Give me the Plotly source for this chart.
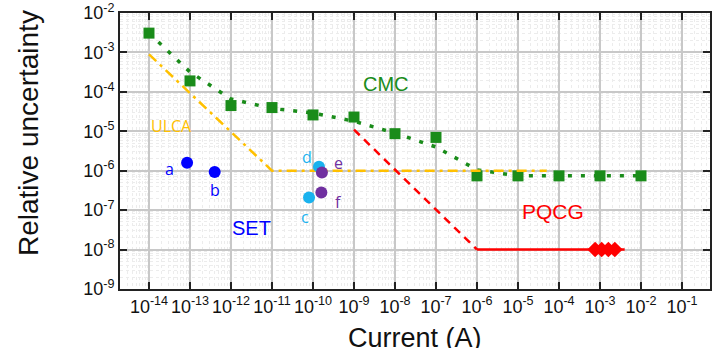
import math
import plotly.graph_objects as go

# CMC squares
cmc_x = [1e-14, 1e-13, 1e-12, 1e-11, 1e-10, 1e-9, 1e-8, 1e-7, 1e-6, 1e-5, 1e-4, 1e-3, 1e-2]
cmc_y = [3.1e-3, 1.9e-4, 4.5e-5, 4.0e-5, 2.6e-5, 2.3e-5, 8.7e-6, 7.0e-6, 7.4e-7, 7.4e-7, 7.4e-7, 7.4e-7, 7.4e-7]

# CMC trend (dotted)
trend_x = [1e-14, 1e-13, 1e-12, 1e-11, 1e-10, 1e-9, 1e-8, 1e-7, 1e-6, 1e-5, 1e-4, 1e-3, 1e-2]
trend_y = [3.1e-3, 3.2e-4, 6.6e-5, 3.8e-5, 2.9e-5, 1.8e-5, 9.0e-6, 4.0e-6, 1.05e-6, 7.4e-7, 7.4e-7, 7.4e-7, 7.4e-7]

# ULCA
ulca_x = [1e-14, 1e-11, 5e-5]
ulca_y = [9e-4, 1e-6, 1e-6]

# PQCG
pqcg_dash_x = [1e-9, 1e-6]
pqcg_dash_y = [1.1e-5, 1e-8]
pqcg_x = [1e-6, 4e-3]
pqcg_y = [1e-8, 1e-8]
pqcg_pts_x = [7.6e-4, 1.1e-3, 1.6e-3, 2.3e-3]
pqcg_pts_y = [1e-8, 1e-8, 1e-8, 1e-8]

# SET points
set_ab_x = [8.5e-14, 4e-13]
set_ab_y = [1.6e-6, 9.3e-7]
set_cd_x = [8e-11, 1.4e-10]
set_cd_y = [2.1e-7, 1.26e-6]
set_ef_x = [1.65e-10, 1.6e-10]
set_ef_y = [9e-7, 2.8e-7]

x_exp = list(range(-14, 0))
y_exp = list(range(-9, -1))

GREEN = "#1a8c1a"
ORANGE = "#ffc000"
RED = "#ff0000"
BLUE = "#0000ff"
CYAN = "#1ab2ee"
PURPLE = "#7030a0"
SANS = "Liberation Sans, Arial, sans-serif"
SOFT = "Open Sans, sans-serif"

fig = go.Figure()

fig.add_trace(go.Scatter(x=trend_x, y=trend_y, mode="lines",
                         line=dict(color=GREEN, width=3.5, dash="4px,9px")))
fig.add_trace(go.Scatter(x=cmc_x, y=cmc_y, mode="markers",
                         marker=dict(symbol="square", size=11, color=GREEN)))
fig.add_trace(go.Scatter(x=ulca_x, y=ulca_y, mode="lines",
                         line=dict(color=ORANGE, width=2.5, dash="10px,5px,3px,5px")))
fig.add_trace(go.Scatter(x=pqcg_dash_x, y=pqcg_dash_y, mode="lines",
                         line=dict(color=RED, width=2.5, dash="8px,6px")))
fig.add_trace(go.Scatter(x=pqcg_x, y=pqcg_y, mode="lines",
                         line=dict(color=RED, width=2.5)))
fig.add_trace(go.Scatter(x=pqcg_pts_x, y=pqcg_pts_y, mode="markers",
                         marker=dict(symbol="diamond", size=12, color=RED)))
fig.add_trace(go.Scatter(x=set_ab_x, y=set_ab_y, mode="markers",
                         marker=dict(size=12, color=BLUE)))
fig.add_trace(go.Scatter(x=set_cd_x, y=set_cd_y, mode="markers",
                         marker=dict(size=12, color=CYAN)))
fig.add_trace(go.Scatter(x=set_ef_x, y=set_ef_y, mode="markers",
                         marker=dict(size=12, color=PURPLE)))

# labels
labels = [
    ("CMC", 6e-9, 1.6e-4, GREEN, 20, SANS),
    ("ULCA", 3.5e-14, 1.4e-5, ORANGE, 16, SOFT),
    ("SET", 3.2e-12, 3.6e-8, BLUE, 20, SANS),
    ("PQCG", 7e-5, 9e-8, RED, 21, SANS),
    ("a", 3.1e-14, 1.1e-6, BLUE, 16, SOFT),
    ("b", 4e-13, 3.3e-7, BLUE, 16, SOFT),
    ("c", 6.3e-11, 6.5e-8, CYAN, 16, SOFT),
    ("d", 7e-11, 2.2e-6, CYAN, 16, SOFT),
    ("e", 4.1e-10, 1.6e-6, PURPLE, 16, SOFT),
    ("f", 4.1e-10, 1.65e-7, PURPLE, 16, SOFT),
]
for t, x, y, c, s, f in labels:
    fig.add_annotation(x=math.log10(x), y=math.log10(y),
                       text=t, showarrow=False, font=dict(color=c, size=s, family=f))

# axis titles
fig.add_annotation(xref="paper", yref="paper", x=0.5, y=-0.178, yanchor="middle",
                   text="Current (A)", showarrow=False, font=dict(size=27, color="#111"))
fig.add_annotation(xref="paper", yref="paper", x=-0.156, y=0.565, xanchor="center",
                   yanchor="middle", text="Relative uncertainty", textangle=-90,
                   showarrow=False, font=dict(size=28, color="#111"))

minor_x = [k * 10.0 ** e for e in range(-15, 0) for k in range(2, 10)]
minor_y = [k * 10.0 ** e for e in range(-10, -1) for k in range(2, 10)]

fig.update_xaxes(type="log", range=[-14.707, -0.317], automargin=False,
                 tickvals=[10.0 ** e for e in x_exp],
                 ticktext=["10<sup>%d</sup>" % e for e in x_exp], tickangle=0,
                 ticks="inside", ticklen=7, tickwidth=2, tickcolor="#222",
                 showline=True, linecolor="#222", linewidth=2, mirror="ticks",
                 showgrid=True, gridcolor="#c8c8c8", gridwidth=1.5,
                 minor=dict(tickvals=minor_x, showgrid=True, gridcolor="#ececec",
                            griddash="dot", gridwidth=1, ticks=""),
                 tickfont=dict(size=18, color="#111"),
                 zeroline=False)
fig.update_yaxes(type="log", range=[-9.002, -1.998], automargin=False,
                 tickvals=[10.0 ** e for e in y_exp],
                 ticktext=["10<sup>%d</sup>" % e for e in y_exp],
                 ticks="inside", ticklen=7, tickwidth=2, tickcolor="#222",
                 showline=True, linecolor="#222", linewidth=2, mirror="ticks",
                 showgrid=True, gridcolor="#c8c8c8", gridwidth=1.5,
                 minor=dict(tickvals=minor_y, showgrid=True, gridcolor="#ececec",
                            griddash="dot", gridwidth=1, ticks=""),
                 tickfont=dict(size=18, color="#111"), ticklabeloverflow="allow",
                 zeroline=False)

fig.update_layout(width=720, height=348, showlegend=False,
                  margin=dict(l=120, r=10, t=13, b=59),
                  plot_bgcolor="white", paper_bgcolor="white",
                  font=dict(family=SANS))

# drop the default body margin so the figure fills the window
fig.write_html("out.html", config={"displayModeBar": False},
               post_script="document.body.style.margin='0';")
